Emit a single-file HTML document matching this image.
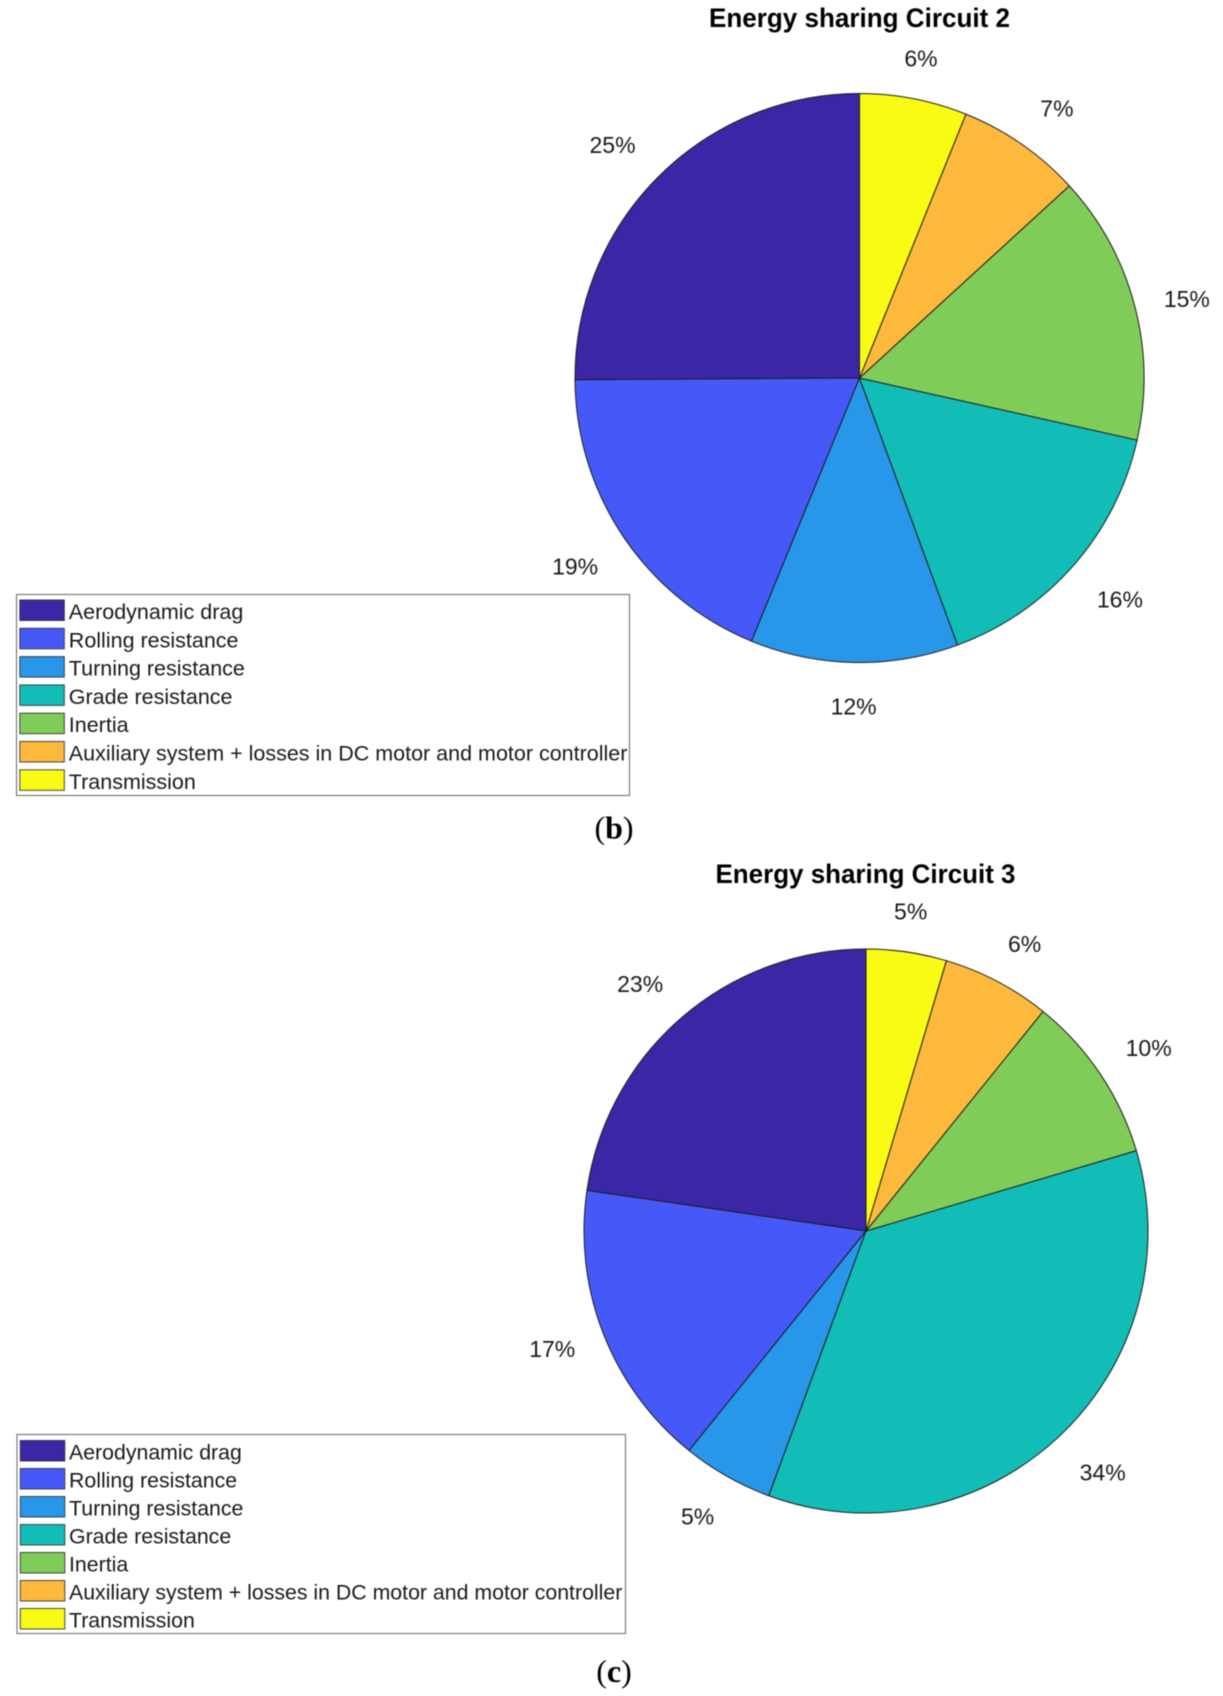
<!DOCTYPE html>
<html lang="en">
<head>
<meta charset="utf-8">
<title>Energy sharing charts</title>
<style>
html,body{margin:0;padding:0;background:#fff;}
body{width:1223px;height:1696px;overflow:hidden;}
svg{display:block;filter:blur(0.4px);}
.title{font:bold 26.5px "Liberation Sans",sans-serif;fill:#000;text-anchor:middle;}
.pct{font:23px "Liberation Sans",sans-serif;fill:#1a1a1a;text-anchor:middle;dominant-baseline:central;}
.leg{font:21.5px "Liberation Sans",sans-serif;fill:#1a1a1a;}
.leg3{font-size:21.3px;}
.cap{font:32px "Liberation Serif",serif;fill:#000;text-anchor:middle;}
</style>
</head>
<body>
<svg id="figure" xmlns="http://www.w3.org/2000/svg" width="1223" height="1696" viewBox="0 0 1223 1696">
<rect width="1223" height="1696" fill="#fff"/>
<text class="title" x="859.5" y="27" textLength="301" lengthAdjust="spacingAndGlyphs">Energy sharing Circuit 2</text>
<g id="pie2"></g>
<g id="pie2-labels"></g>
<g id="legend2"></g>
<text class="cap" x="614" y="838.5">(<tspan font-weight="bold">b</tspan>)</text>
<text class="title" x="865.5" y="883" textLength="300" lengthAdjust="spacingAndGlyphs">Energy sharing Circuit 3</text>
<g id="pie3"></g>
<g id="pie3-labels"></g>
<g id="legend3"></g>
<text class="cap" x="614" y="1682">(<tspan font-weight="bold">c</tspan>)</text>
</svg>
<script>
const categories = ["Aerodynamic drag", "Rolling resistance", "Turning resistance", "Grade resistance", "Inertia", "Auxiliary system + losses in DC motor and motor controller", "Transmission"];
const circuit2Values = [25.1, 18.7, 11.8, 15.9, 15.3, 7.1, 6.1];
const circuit3Values = [22.7, 16.5, 5.2, 35.2, 9.6, 6.2, 4.6];
const circuit2Labels = ["25%", "19%", "12%", "16%", "15%", "7%", "6%"];
const circuit3Labels = ["23%", "17%", "5%", "34%", "10%", "6%", "5%"];
const sliceColors = ["#3b26a6", "#4559f9", "#2896e9", "#12bdb8", "#80cc59", "#fcb93c", "#f9fb15"];

const NS = "http://www.w3.org/2000/svg";

function make(tag, attrs, parent) {
  const el = document.createElementNS(NS, tag);
  for (const k in attrs) el.setAttribute(k, attrs[k]);
  parent.appendChild(el);
  return el;
}

function valueToAngle(cumulative, total) {
  return cumulative / total * 2 * Math.PI;
}

function point(cx, cy, r, angle) {
  return [cx - r * Math.sin(angle), cy - r * Math.cos(angle)];
}

function clamp01(v) {
  return Math.max(0, Math.min(1, v));
}

function drawPie(pieId, labelId, values, labels, cx, cy, r) {
  const pieGroup = document.getElementById(pieId);
  const labelGroup = document.getElementById(labelId);
  const total = values.reduce((a, b) => a + b, 0);
  let cum = 0;
  values.forEach((v, i) => {
    const a0 = valueToAngle(cum, total);
    const a1 = valueToAngle(cum + v, total);
    const p0 = point(cx, cy, r, a0);
    const p1 = point(cx, cy, r, a1);
    const large = a1 - a0 > Math.PI ? 1 : 0;
    const slice = make("path", {
      d: `M${cx} ${cy}L${p0[0]} ${p0[1]}A${r} ${r} 0 ${large} 0 ${p1[0]} ${p1[1]}Z`,
      fill: sliceColors[i % sliceColors.length],
      stroke: "#1c1c1c",
      "stroke-width": 1,
      "stroke-linejoin": "round"
    }, pieGroup);
    
    

    const mid = (a0 + a1) / 2;
    const dirX = -Math.sin(mid);
    const dirY = -Math.cos(mid);
    const offX = Math.sign(dirX) * 25 * clamp01((Math.abs(dirX) - 0.15) / 0.55);
    const offY = Math.sign(dirY) * 14 * clamp01((Math.abs(dirY) - 0.3) / 0.3);
    const label = make("text", {
      class: "pct",
      x: cx + 1.1 * r * dirX + offX,
      y: cy + 1.1 * r * dirY + offY + 1.5
    }, labelGroup);
    label.textContent = labels[i];
    
    
    cum += v;
  });
}

function drawLegend(id, x, y, w, h, swatchX, swatchY, pitch, textX, textClass) {
  const g = document.getElementById(id);
  const box = make("rect", { x: x, y: y, width: w, height: h, fill: "#fff", stroke: "#666", "stroke-width": 1 }, g);
  
  
  categories.forEach((name, i) => {
    const sy = swatchY + i * pitch;
    const swatch = make("rect", { x: swatchX, y: sy, width: 44.5, height: 20.5, fill: sliceColors[i], stroke: "#333", "stroke-width": 0.9 }, g);
    
    
    const text = make("text", { class: textClass, x: textX, y: sy + 19 }, g);
    text.textContent = name;
    
    
  });
}

drawPie("pie2", "pie2-labels", circuit2Values, circuit2Labels, 859.5, 378, 284.5);
drawPie("pie3", "pie3-labels", circuit3Values, circuit3Labels, 866, 1231, 282);
drawLegend("legend2", 16.5, 594.5, 613, 201, 19.8, 600, 28.3, 68.8, "leg");
drawLegend("legend3", 17, 1434.5, 608.5, 199, 20.3, 1440.5, 28, 69, "leg leg3");
</script>
</body>
</html>
